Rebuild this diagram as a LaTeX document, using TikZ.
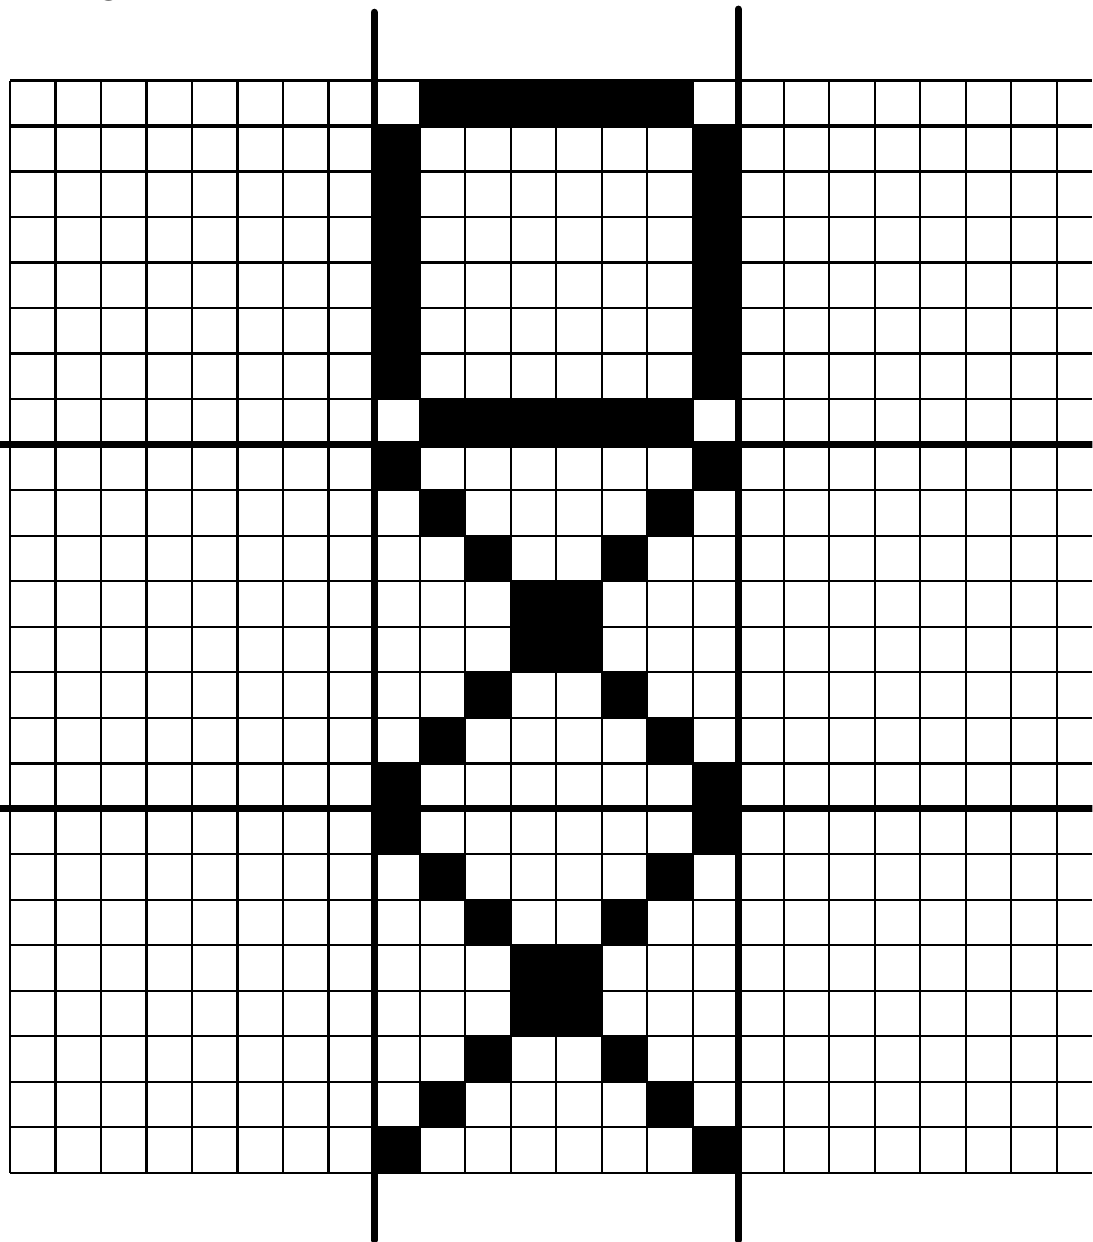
\documentclass[tikz,border=0pt]{standalone}
\usetikzlibrary{positioning}

\begin{document}
\begin{tikzpicture}[
          gridline/.style={line width=1.4pt},
          midline/.style={line width=2pt},
          heavyline/.style={line width=4.4pt, line cap=round},
          pixel/.style={fill=black}]
        \useasboundingbox (-0.22,-1.52) rectangle (23.78,25.77);
        \clip (-0.22,-1.52) rectangle (23.78,25.77);
        \node[anchor=base west, inner sep=0pt, font=\sffamily\fontsize{60}{60}\selectfont] (label) at (0.68,25.78) {10};
        \foreach \x in {0,...,23} \draw[gridline] (\x,0) -- (\x,24);
        \foreach \y in {0,...,24} \draw[gridline] (0,\y) -- (23.78,\y);
        \draw[midline] (0,23) -- (23.78,23);
        \draw[midline] (0,9) -- (23.78,9);
        % top box
        \fill[pixel] (9,23) rectangle (15,24);
        \fill[pixel] (9,16) rectangle (15,17);
        \fill[pixel] (8,17) rectangle (9,23);
        \fill[pixel] (15,17) rectangle (16,23);
        % two crosses below
        \foreach \r/\c in {8/0,9/1,10/2,11/3,12/3,13/2,14/1,15/0,16/0,17/1,18/2,19/3,20/3,21/2,22/1,23/0} {
          \fill[pixel] (8+\c,23-\r) rectangle ++(1,1);
          \fill[pixel] (15-\c,23-\r) rectangle ++(1,1);
        }
        \draw[heavyline] (-0.4,16) -- (24,16);
        \draw[heavyline] (-0.4,8) -- (24,8);
        \draw[heavyline] (8,-1.48) -- (8,25.5);
        \draw[heavyline] (16,-1.48) -- (16,25.57);
      \end{tikzpicture}
\end{document}
